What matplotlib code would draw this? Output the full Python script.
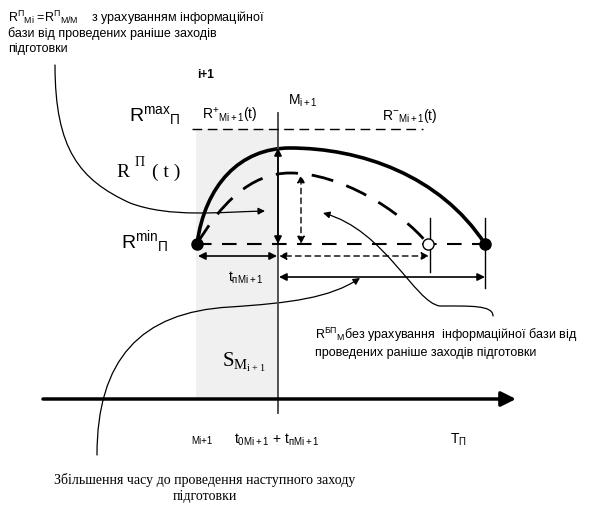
import matplotlib
matplotlib.use('Agg')
import matplotlib.pyplot as plt
from matplotlib.path import Path
from matplotlib.patches import PathPatch, FancyArrowPatch, Rectangle

plt.rcParams['font.family'] = ['Liberation Sans', 'DejaVu Sans']
plt.rcParams['mathtext.fontset'] = 'custom'
plt.rcParams['mathtext.rm'] = 'Liberation Sans'
plt.rcParams['mathtext.it'] = 'Liberation Sans'
plt.rcParams['mathtext.default'] = 'regular'

# schematic anchor values (pixel-like units of the original drawing)
x_levels = [197, 278, 428, 485]     # start, M_{i+1}, end without info base, end with info base
y_levels = [129, 244, 399]          # R max, R min, time axis
peak_plus = [290, 148]              # peak of R+ curve
peak_minus = [290, 173]             # peak of R- curve

x0, xm, xe_minus, xe_plus = x_levels
y_max, y_min, y_axis = y_levels

C = Path.CURVE4
M = Path.MOVETO

fig = plt.figure(figsize=(5.89, 5.07), dpi=100)
ax = fig.add_axes([0, 0, 1, 1])
ax.set_xlim(0, 589)
ax.set_ylim(507, 0)
ax.axis('off')

# shaded area S
ax.add_patch(Rectangle((x0 - 1, y_max), xm - x0 + 1, y_axis - y_max,
                       facecolor='#f0f0f0', edgecolor='none', zorder=0))

# time axis
ax.annotate('', xy=(516, y_axis), xytext=(43, y_axis),
            arrowprops=dict(arrowstyle='-|>', lw=2.5, mutation_scale=22,
                            color='black', shrinkA=0, shrinkB=0))

# vertical line at M_{i+1}
ax.plot([xm, xm], [113, 413], color='#444444', lw=1.3)

# R max dashed line
ax.plot([192, 423], [y_max, y_max], color='black', lw=1, dashes=(7, 4))
# R min dashed baseline
ax.plot([x0, xe_plus], [y_min, y_min], color='black', lw=1.5, dashes=(7, 5))

# tick lines at curve ends
ax.plot([xe_minus + 2, xe_minus + 2], [218, 272], color='black', lw=1)
ax.plot([xe_plus, xe_plus], [218, 288], color='black', lw=1)

# R+ curve (with info base)
px, py = peak_plus
plus = Path([(x0, y_min), (205, 185), (240, py), (px, py),
             (360, py), (440, 175), (xe_plus, y_min)],
            [M, C, C, C, C, C, C])
ax.add_patch(PathPatch(plus, fill=False, lw=2.6, color='black'))

# R- curve (without info base)
mx, my = peak_minus
minus = Path([(x0, y_min), (220, 205), (250, my), (mx, my),
              (340, my), (400, 210), (xe_minus, y_min)],
             [M, C, C, C, C, C, C])
ax.add_patch(PathPatch(minus, fill=False, lw=2.0, color='black',
                       linestyle=(0, (8, 5))))

# end points
ax.plot([x0, xe_plus], [y_min, y_min], 'o', color='black', ms=8, zorder=5)
ax.plot([xe_minus], [y_min], 'o', mfc='white', mec='black', ms=8, mew=1, zorder=5)

arrow_kw = dict(arrowstyle='<|-|>', lw=1.2, mutation_scale=11,
                color='black', shrinkA=0, shrinkB=0)
# vertical solid arrow
ax.annotate('', xy=(xm, peak_plus[1]), xytext=(xm, y_min), arrowprops=arrow_kw)
# vertical dashed arrow
ax.annotate('', xy=(301, peak_minus[1] + 2), xytext=(301, y_min),
            arrowprops=dict(arrow_kw, lw=1, linestyle=(0, (4, 3))))
# horizontal arrows
ax.annotate('', xy=(x0 + 1, 256), xytext=(xm - 1, 256), arrowprops=arrow_kw)
ax.annotate('', xy=(xm + 1, 256), xytext=(xe_minus + 1, 256),
            arrowprops=dict(arrow_kw, lw=1, linestyle=(0, (4, 3))))
ax.annotate('', xy=(xm + 1, 277), xytext=(xe_plus, 277), arrowprops=arrow_kw)

# thin pointer curves
ptr_kw = dict(arrowstyle='-|>', mutation_scale=10, lw=0.9, color='black')
ptr_a = Path([(55, 65), (55, 150), (80, 180), (130, 203),
              (170, 218), (220, 212), (265, 211)], [M, C, C, C, C, C, C])
ptr_b = Path([(493, 316), (493, 305), (470, 306), (440, 306),
              (415, 303), (385, 230), (323, 213)], [M, C, C, C, C, C, C])
ptr_c = Path([(97, 455), (97, 360), (140, 312), (230, 307),
              (290, 303), (330, 298), (360, 278)], [M, C, C, C, C, C, C])
for p in (ptr_a, ptr_b, ptr_c):
    ax.add_patch(FancyArrowPatch(path=p, **ptr_kw))

# texts
ax.text(8, 22, r'R$^{П}$$_{Mi}$ =R$^{П}$$_{M/M}$    з урахуванням інформаційної', fontsize=9)
ax.text(8, 37, 'бази від проведених раніше заходів', fontsize=9)
ax.text(8, 52, 'підготовки', fontsize=9)
ax.text(197, 78, 'i+1', fontsize=8.5, fontweight='bold')

ax.text(129, 121, r'R$^{max}$$_{П}$', fontsize=14)
ax.text(121, 248, r'R$^{min}$$_{П}$', fontsize=14)
ax.text(202, 120, r'R$^{+}$$_{Mi+1}$(t)', fontsize=10)
ax.text(382, 120, r'R$^{-}$$_{Mi+1}$(t)', fontsize=10)
ax.text(288, 105, r'M$_{i+1}$', fontsize=10)

ax.text(116, 177, 'R', fontsize=14, family='Liberation Serif')
ax.text(135, 166, 'П', fontsize=10, family='Liberation Serif')
ax.text(152, 177, '( t )', fontsize=14, family='Liberation Serif')

ax.text(228, 282, r't$_{пMi+1}$', fontsize=10)
ax.text(222, 367, r'S$_{M_{i+1}}$', fontsize=15, family='Liberation Serif',
        math_fontfamily='dejavuserif')

ax.text(315, 339, r'R$^{БП}$$_{M}$без урахування  інформаційної бази від', fontsize=9)
ax.text(315, 356, 'проведених раніше заходів підготовки', fontsize=9)

ax.text(191, 444, 'Mi+1', fontsize=7)
ax.text(234, 444, r't$_{0Mi+1}$ + t$_{пMi+1}$', fontsize=10)
ax.text(450, 444, r'T$_{П}$', fontsize=10)

ax.text(205, 484, 'Збільшення часу до проведення наступного заходу', fontsize=10,
        family='Liberation Serif', ha='center')
ax.text(205, 500, 'підготовки', fontsize=10, family='Liberation Serif', ha='center')

fig.savefig('out.png', dpi=100)
